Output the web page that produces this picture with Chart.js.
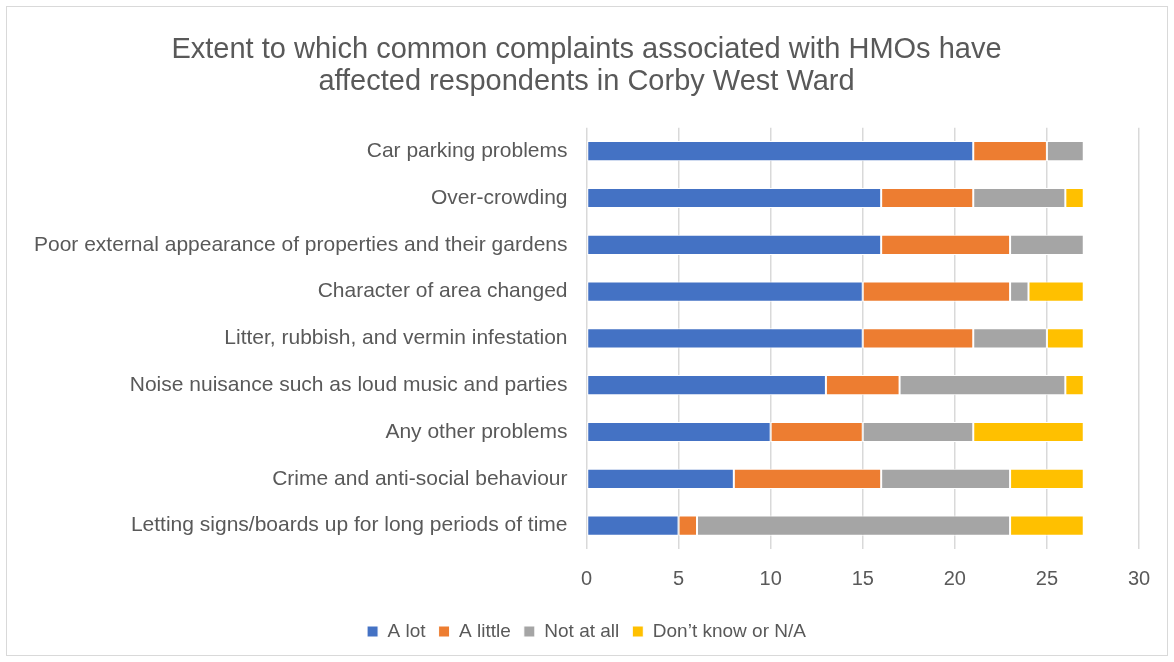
<!DOCTYPE html>
<html>
<head>
<meta charset="utf-8">
<script src="https://cdn.jsdelivr.net/npm/chart.js@4"></script>
<style>
  html, body { margin: 0; padding: 0; background: #fff; }
  #wrap { position: absolute; left: 6px; top: 6px; width: 1162px; height: 650px; border: 1.5px solid #d9d9d9; box-sizing: border-box; }
  #myBarChart { position: absolute; left: 0; top: 0; }
</style>
</head>
<body>
<div id="wrap"></div>
<canvas id="myBarChart" width="1174" height="662"></canvas>
<script>
// categories, top to bottom
const labels = [
  'Car parking problems',
  'Over-crowding',
  'Poor external appearance of properties and their gardens',
  'Character of area changed',
  'Litter, rubbish, and vermin infestation',
  'Noise nuisance such as loud music and parties',
  'Any other problems',
  'Crime and anti-social behaviour',
  'Letting signs/boards up for long periods of time'
];

// number of respondents per answer
const aLot      = [21, 16, 16, 15, 15, 13, 10, 8, 5];
const aLittle   = [4, 5, 7, 8, 6, 4, 5, 8, 1];
const notAtAll  = [2, 5, 4, 1, 4, 9, 6, 7, 17];
const dontKnow  = [0, 1, 0, 3, 2, 1, 6, 4, 4];

const xTicks = [0, 5, 10, 15, 20, 25, 30];

const grey = '#595959';
const font = 'Liberation Sans, Arial, sans-serif';

const ctx = document.getElementById('myBarChart').getContext('2d');

const mk = (label, data, color) => ({
  label: label,
  data: data,
  backgroundColor: color,
  borderColor: '#ffffff',
  borderWidth: 1,
  borderSkipped: false,
  barPercentage: 0.72,
  categoryPercentage: 0.6
});

new Chart(ctx, {
  type: 'bar',
  data: {
    labels: labels,
    datasets: [
      mk('A lot', aLot, '#4472c4'),
      mk('A little', aLittle, '#ed7d31'),
      mk('Not at all', notAtAll, '#a5a5a5'),
      mk('Don\u2019t know or N/A', dontKnow, '#ffc000')
    ]
  },
  options: {
    indexAxis: 'y',
    responsive: false,
    animation: false,
    layout: { padding: { left: 34, right: 35, top: 14, bottom: 11 } },
    plugins: {
      title: {
        display: true,
        text: ['Extent to which common complaints associated with HMOs have', 'affected respondents in Corby West Ward'],
        color: grey,
        font: { family: font, size: 29, weight: 'normal', lineHeight: 1.1 },
        padding: { top: 20, bottom: 30 }
      },
      legend: {
        display: true,
        position: 'bottom',
        labels: {
          color: grey,
          font: { family: font, size: 19 },
          boxWidth: 11,
          boxHeight: 11,
          padding: 13
        }
      },
      tooltip: { enabled: false }
    },
    scales: {
      x: {
        stacked: true,
        min: 0,
        max: 30,
        afterBuildTicks: axis => { axis.ticks = xTicks.map(v => ({ value: v })); },
        grid: { color: '#d9d9d9', lineWidth: 1.5, drawTicks: false },
        border: { display: false },
        ticks: { color: grey, font: { family: font, size: 20 }, padding: 18 }
      },
      y: {
        stacked: true,
        grid: { display: false },
        border: { display: false },
        ticks: { color: grey, font: { family: font, size: 21 }, padding: 11 }
      }
    }
  }
});
</script>
</body>
</html>
